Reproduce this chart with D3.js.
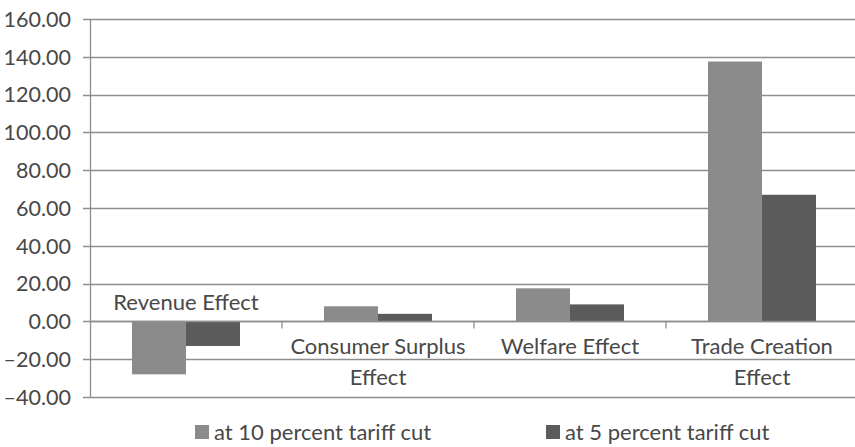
<!DOCTYPE html>
<html>
<head>
<meta charset="utf-8">
<script src="https://cdn.jsdelivr.net/npm/d3@7"></script>
<style>
  html, body { margin: 0; padding: 0; background: #fff; }
  svg { display: block; }
  text { font-family: Lato, "Open Sans", sans-serif; fill: #484848; }
</style>
</head>
<body>
<svg id="chart" width="855" height="447"></svg>
<script>
// Tariff-cut effects, two scenarios
const categories = ["Revenue Effect", "Consumer Surplus Effect", "Welfare Effect", "Trade Creation Effect"];
const categoryLines = [["Revenue Effect"], ["Consumer Surplus", "Effect"], ["Welfare Effect"], ["Trade Creation", "Effect"]];
const seriesNames = ["at 10 percent tariff cut", "at 5 percent tariff cut"];
const tenPercent = [-28, 8, 17.5, 137.5];
const fivePercent = [-13, 4, 9, 67];
const yTicks = [-40, -20, 0, 20, 40, 60, 80, 100, 120, 140, 160];
const seriesColors = ["#8b8b8b", "#5b5b5b"];

const svg = d3.select("#chart");
const margin = { left: 90, right: -3 };
const W = 855;

const y = d3.scaleLinear().domain([-40, 160]).range([397, 19]);
const x0 = d3.scaleBand().domain(categories).range([margin.left, W - margin.right]).paddingInner(0).paddingOuter(0);
const x1 = d3.scaleBand().domain(seriesNames).range([0, x0.bandwidth()]).paddingInner(0).paddingOuter(0.778);
const color = d3.scaleOrdinal().domain(seriesNames).range(seriesColors);

const rows = categories.map((c, i) => ({ cat: c, values: [
  { s: seriesNames[0], v: tenPercent[i] },
  { s: seriesNames[1], v: fivePercent[i] }
]}));

// Gridlines with short ticks to the left
svg.append("g").selectAll("line").data(yTicks).join("line")
  .attr("x1", margin.left - 7).attr("x2", W)
  .attr("y1", d => Math.round(y(d)) + 0.5).attr("y2", d => Math.round(y(d)) + 0.5)
  .attr("stroke", "#8e8e8e").attr("stroke-width", 1.3);

// Y axis labels
svg.append("g").selectAll("text").data(yTicks).join("text")
  .attr("x", 71).attr("y", d => y(d)).attr("dy", "0.36em")
  .attr("text-anchor", "end").attr("font-size", 21.5)
  .text(d => (d < 0 ? "\u2013" + d3.format(".2f")(-d) : d3.format(".2f")(d)));

// Vertical axis line
svg.append("line")
  .attr("x1", margin.left + 0.5).attr("x2", margin.left + 0.5)
  .attr("y1", y(160)).attr("y2", y(-40))
  .attr("stroke", "#8e8e8e").attr("stroke-width", 1.3);

// Bars
svg.append("g").selectAll("g").data(rows).join("g")
  .attr("transform", d => `translate(${x0(d.cat)},0)`)
  .selectAll("rect").data(d => d.values).join("rect")
  .attr("x", d => x1(d.s)).attr("width", x1.bandwidth())
  .attr("y", d => y(Math.max(0, d.v)))
  .attr("height", d => Math.abs(y(d.v) - y(0)))
  .attr("fill", d => color(d.s));

// Category axis at zero with tick marks between categories
svg.append("line")
  .attr("x1", margin.left).attr("x2", W)
  .attr("y1", Math.round(y(0)) + 0.5).attr("y2", Math.round(y(0)) + 0.5)
  .attr("stroke", "#8e8e8e").attr("stroke-width", 1.3);
svg.append("g").selectAll("line").data(categories.slice(1)).join("line")
  .attr("x1", d => x0(d)).attr("x2", d => x0(d))
  .attr("y1", y(0)).attr("y2", y(0) + 7)
  .attr("stroke", "#8e8e8e").attr("stroke-width", 1.3);

// Category labels
const labels = svg.append("g").selectAll("text").data(categories).join("text")
  .attr("text-anchor", "middle").attr("font-size", 22)
  .attr("x", d => x0(d) + x0.bandwidth() / 2)
  .attr("y", (d, i) => i === 0 ? 310 : 354);
labels.selectAll("tspan").data((d, i) => categoryLines[i]).join("tspan")
  .attr("x", function () { return this.parentNode.getAttribute("x"); })
  .attr("dy", (d, j) => j === 0 ? 0 : 31)
  .text(d => d);

// Legend
const legendX = [195, 546];
const legend = svg.append("g").selectAll("g").data(seriesNames).join("g")
  .attr("transform", (d, i) => `translate(${legendX[i]},432)`);
legend.append("rect").attr("x", 0).attr("y", -7).attr("width", 14).attr("height", 14)
  .attr("fill", d => color(d));
legend.append("text").attr("x", 19).attr("y", 0).attr("dy", "0.36em")
  .attr("font-size", 22).text(d => d);
</script>
</body>
</html>
